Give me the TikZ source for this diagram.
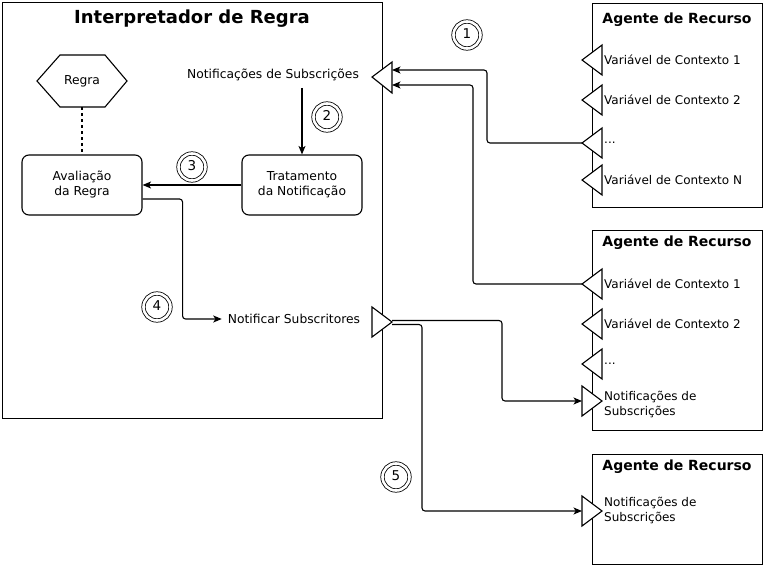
\documentclass[tikz,border=0pt]{standalone}
\usepackage{fontspec}
\setmainfont{DejaVu Sans}
\usetikzlibrary{arrows.meta}
\begin{document}
\begin{tikzpicture}[x=1pt,y=-1pt,
  lbl/.style={font=\fontsize{12.3}{15}\selectfont, align=center, inner sep=2pt},
  plbl/.style={font=\fontsize{12}{15}\selectfont, align=left, anchor=west, inner sep=1pt},
  procbox/.style={draw, line width=1.1pt, rounded corners=7pt, minimum width=120pt, minimum height=60pt, align=center, font=\fontsize{12.3}{15}\selectfont},
  frame/.style={draw, line width=1.1pt, anchor=north west, inner sep=0pt, minimum width=170pt},
  ttlA/.style={font=\fontsize{14}{14}\selectfont\bfseries, inner sep=1pt},
  arr/.style={-{Stealth[length=8.5pt,width=7pt,inset=2.2pt]}, line width=1.1pt, rounded corners=3pt},
  tri/.style={draw, line width=1.1pt, fill=white, line join=miter},
  numc/.style={circle, draw, double, double distance=2.6pt, line width=0.8pt, minimum size=27pt, inner sep=0pt, font=\fontsize{13.5}{13.5}\selectfont}
]
\useasboundingbox (0,0) rectangle (764,567);
\fill[white] (0,0) rectangle (764,567);

% main frame
\node[frame, minimum width=380pt, minimum height=416pt] (interp) at (2,2) {};
\node[font=\fontsize{18}{18}\selectfont\bfseries, inner sep=1pt] (ttl) at (192,18.5) {Interpretador de Regra};

% hexagon Regra
\draw[line width=1.1pt, line join=miter] (37,81) -- (60,55) -- (105,55) -- (127,81) -- (105,107) -- (60,107) -- cycle;
\node[lbl, minimum height=52pt, inner sep=0pt] (regra) at (82,81) {Regra};

\node[procbox] (aval) at (82,185) {Avaliação\\da Regra};
\node[procbox] (trat) at (302,185) {Tratamento\\da Notificação};
\node[lbl] (nsub) at (273,75) {Notificações de Subscrições};
\node[lbl, inner sep=6pt] (notif) at (294,319) {Notificar Subscritores};

\draw[line width=1.1pt, dashed, dash pattern=on 3pt off 3pt] (regra.south) -- (aval.north);
\draw[arr] (trat.north |- 0,88) -- (trat.north);
\draw[arr] (trat.west) -- (aval.east);
\draw[arr] ([yshift=-14pt]aval.east) -- ++(40,0) |- (notif.west);

% interpreter ports
\coordinate (inTip) at (372,77);
\draw[tri] (inTip) -- (392,62) -- (392,93) -- cycle;
\coordinate (inA) at (392,70);
\coordinate (inB) at (392,85);
\coordinate (outTip) at (392,322);
\draw[tri] (372,307) -- (outTip) -- (372,337) -- cycle;

% agent 1
\node[frame, minimum height=204pt] (ag1) at (592,3) {};
\node[ttlA] (ag1t) at (677,20) {Agente de Recurso};
\foreach \n/\y/\t in {1/60/{Variável de Contexto 1},2/100/{Variável de Contexto 2},3/143/{...},4/180/{Variável de Contexto N}}{
  \coordinate (a1p\n) at (582,\y);
  \draw[tri] (a1p\n) -- ++(20,-15) -- ++(0,30) -- cycle;
  \node[plbl] (a1l\n) at (603,\y) {\t};
}

% agent 2
\node[frame, minimum height=200pt] (ag2) at (592,230) {};
\node[ttlA] (ag2t) at (677,242.5) {Agente de Recurso};
\foreach \n/\y/\t in {1/284/{Variável de Contexto 1},2/324/{Variável de Contexto 2},3/364/{...}}{
  \coordinate (a2p\n) at (582,\y);
  \draw[tri] (a2p\n) -- ++(20,-15) -- ++(0,30) -- cycle;
  \node[plbl] (a2l\n) at (603,\y) {\t};
}
\coordinate (a2p4) at (582,401);
\draw[tri] (a2p4) -- ++(0,-15) -- ++(20,15) -- ++(-20,15) -- cycle;
\node[plbl] (a2l4) at (603,404) {Notificações de\\Subscrições};

% agent 3
\node[frame, minimum height=110pt] (ag3) at (592,454) {};
\node[ttlA] (ag3t) at (677,467) {Agente de Recurso};
\coordinate (a3p1) at (582,511);
\draw[tri] (a3p1) -- ++(0,-15) -- ++(20,15) -- ++(-20,15) -- cycle;
\node[plbl] (a3l1) at (603,510) {Notificações de\\Subscrições};

% connectors
\draw[arr] (a1p3) -- ++(-95,0) |- (inA);
\draw[arr] (a2p1) -- ++(-109,0) |- (inB);
\draw[arr] ([yshift=1.5pt]outTip) -- ++(110,0) |- (a2p4);
\draw[arr] ([yshift=-2.5pt]outTip) -- ++(30,0) |- (a3p1);

% step numbers
\node[numc] (c1) at (467,35) {\raisebox{3pt}{1}};
\node[numc] (c2) at (327,117) {\raisebox{3pt}{2}};
\node[numc] (c3) at (192,167) {\raisebox{3pt}{3}};
\node[numc] (c4) at (157,307) {\raisebox{3pt}{4}};
\node[numc] (c5) at (396,477) {\raisebox{3pt}{5}};
\end{tikzpicture}
\end{document}
